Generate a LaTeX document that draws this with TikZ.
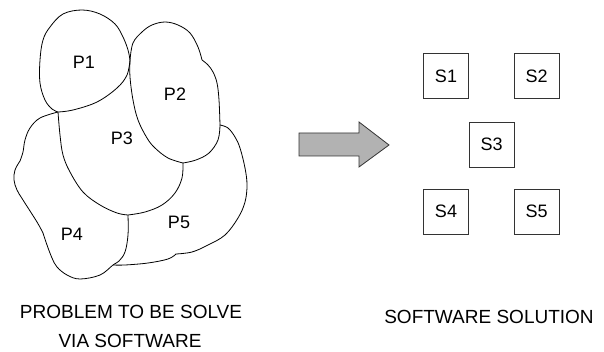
\documentclass[tikz,border=0pt]{standalone}
\usepackage{fontspec}
\setmainfont{Liberation Sans}
\begin{document}
\begin{tikzpicture}[x=1pt,y=-1pt,
  outline/.style={line width=0.8pt,black,line join=round},
  curve/.style={outline,smooth,tension=0.6},
  partlabel/.style={anchor=base,inner sep=0pt,font=\fontsize{18}{20}\selectfont},
  caption/.style={anchor=base,inner sep=0pt,font=\fontsize{19}{22}\selectfont},
  solbox/.style={draw=black!80,line width=0.8pt,minimum size=45pt,inner sep=0pt,
                 font=\fontsize{18}{20}\selectfont}]
\useasboundingbox (0,0) rectangle (604,352);

% junction points of the problem regions
\coordinate (j1) at (130,60);
\coordinate (j2) at (58,112);
\coordinate (j3) at (183,163);
\coordinate (j4) at (128,215);
\coordinate (j5) at (113,265);
\coordinate (j6) at (220,125);

% P1
\draw[curve] plot coordinates {(130,60) (128,50) (123,37) (115,24) (100,14) (82,10) (63,14) (50,27) (43,40) (40,60) (40,83) (45,100) (52,109) (58,112)};
\draw[curve] plot coordinates {(58,112) (73,110) (97,102) (117,88) (127,75) (130,60)};
% P2
\draw[curve] plot coordinates {(130,60) (133,43) (142,32) (152,25) (165,22) (178,25) (190,33) (198,47) (202,60)};
\draw[curve] plot coordinates {(202,60) (208,65) (213,72) (217,83) (219,100) (220,125)};
\draw[curve] plot coordinates {(220,125) (218,140) (209,153) (196,160) (183,163)};
\draw[curve] plot coordinates {(130,60) (130,77) (133,100) (138,120) (147,138) (155,148) (168,158) (183,163)};
% P3
\draw[curve] plot coordinates {(183,163) (182,178) (175,193) (162,205) (145,212) (128,215)};
\draw[curve] plot coordinates {(58,112) (60,135) (63,155) (70,172) (83,192) (100,205) (117,213) (128,215)};
% P4
\draw[curve] plot coordinates {(58,112) (40,118) (30,128) (25,140) (23,152) (20,161)};
\draw[curve] plot coordinates {(20,161) (15,170) (14,180) (17,190) (23,200) (37,222) (43,233)};
\draw[curve] plot coordinates {(43,233) (47,245) (52,258) (57,267) (67,275) (80,279) (100,275) (113,265) (119,261) (125,252) (128,235) (128,215)};
% P5
\draw[curve] plot coordinates {(220,125) (228,128) (235,137) (240,148) (245,168) (247,185) (245,202) (238,218) (225,235) (208,245) (192,252) (176,254)};
\draw[curve] plot coordinates {(176,254) (168,259) (148,263) (125,265) (113,265)};

\node[partlabel] (p1) at (84,68.5) {P1};
\node[partlabel] (p2) at (175,100.5) {P2};
\node[partlabel] (p3) at (122,144.5) {P3};
\node[partlabel] (p4) at (72,240.5) {P4};
\node[partlabel] (p5) at (179,228.5) {P5};

% block arrow
\draw[line width=0.8pt,draw=black!80,fill=black!30,line join=miter]
  (299,133) -- (359,133) -- (359,122) -- (389,145) -- (359,167) -- (359,156) -- (299,156) -- cycle;

% software components
\node[solbox] (s1) at (446,76) {S1};
\node[solbox] (s2) at (536.5,76) {S2};
\node[solbox] (s3) at (491.5,144.5) {S3};
\node[solbox] (s4) at (446,211.5) {S4};
\node[solbox] (s5) at (536.5,211.5) {S5};

\node[caption] (cap1) at (131,318.5) {PROBLEM TO BE SOLVE};
\node[caption] (cap2) at (130,347) {VIA SOFTWARE};
\node[caption] (cap3) at (489,323) {SOFTWARE SOLUTION};
\end{tikzpicture}
\end{document}
